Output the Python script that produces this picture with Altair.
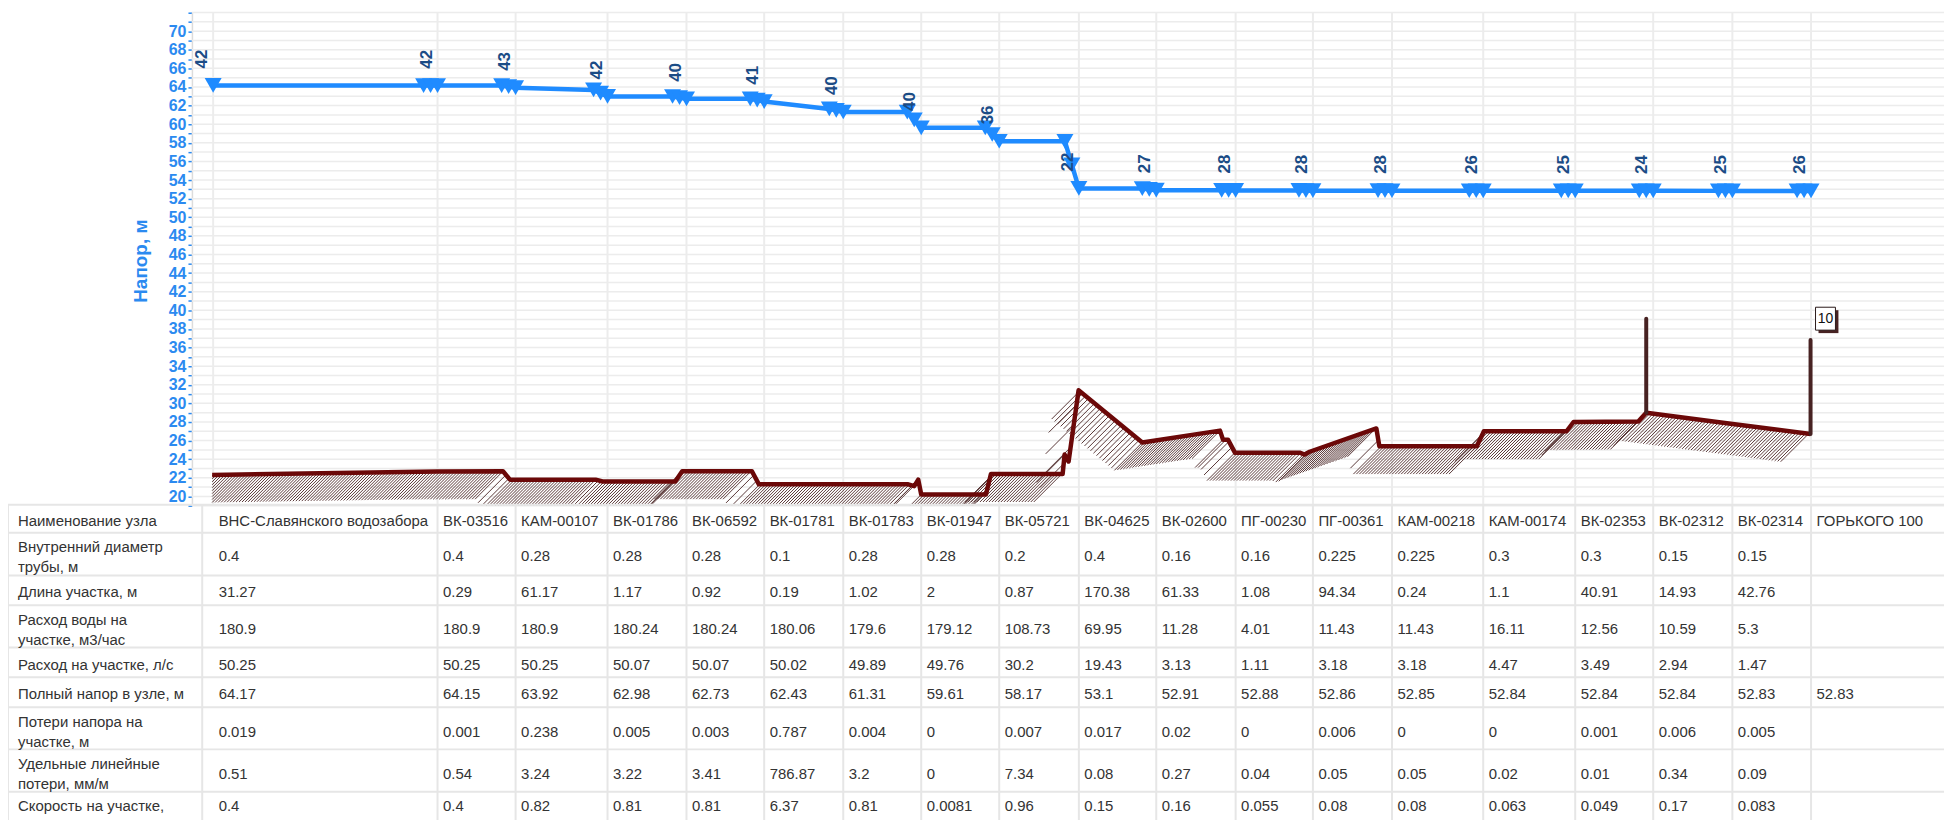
import altair as alt
import numpy as np
import pandas as pd

# ---------------- data ----------------
node_names = ["ВНС-Славянского водозабора", "ВК-03516", "КАМ-00107", "ВК-01786", "ВК-06592",
              "ВК-01781", "ВК-01783", "ВК-01947", "ВК-05721", "ВК-04625", "ВК-02600",
              "ПГ-00230", "ПГ-00361", "КАМ-00218", "КАМ-00174", "ВК-02353", "ВК-02312",
              "ВК-02314", "ГОРЬКОГО 100"]
free_head = [42, 42, 43, 42, 40, 41, 40, 40, 36, 22, 27, 28, 28, 28, 26, 25, 24, 25, 26]
diameter = [0.4, 0.4, 0.28, 0.28, 0.28, 0.1, 0.28, 0.28, 0.2, 0.4, 0.16, 0.16, 0.225, 0.225, 0.3, 0.3, 0.15, 0.15, None]
length = [31.27, 0.29, 61.17, 1.17, 0.92, 0.19, 1.02, 2, 0.87, 170.38, 61.33, 1.08, 94.34, 0.24, 1.1, 40.91, 14.93, 42.76, None]
flow_m3h = [180.9, 180.9, 180.9, 180.24, 180.24, 180.06, 179.6, 179.12, 108.73, 69.95, 11.28, 4.01, 11.43, 11.43, 16.11, 12.56, 10.59, 5.3, None]
flow_ls = [50.25, 50.25, 50.25, 50.07, 50.07, 50.02, 49.89, 49.76, 30.2, 19.43, 3.13, 1.11, 3.18, 3.18, 4.47, 3.49, 2.94, 1.47, None]
head = [64.17, 64.15, 63.92, 62.98, 62.73, 62.43, 61.31, 59.61, 58.17, 53.1, 52.91, 52.88, 52.86, 52.85, 52.84, 52.84, 52.84, 52.83, 52.83]
head_loss = [0.019, 0.001, 0.238, 0.005, 0.003, 0.787, 0.004, 0, 0.007, 0.017, 0.02, 0, 0.006, 0, 0, 0.001, 0.006, 0.005, None]
spec_loss = [0.51, 0.54, 3.24, 3.22, 3.41, 786.87, 3.2, 0, 7.34, 0.08, 0.27, 0.04, 0.05, 0.05, 0.02, 0.01, 0.34, 0.09, None]
velocity = [0.4, 0.4, 0.82, 0.81, 0.81, 6.37, 0.81, 0.0081, 0.96, 0.15, 0.16, 0.055, 0.08, 0.08, 0.063, 0.049, 0.17, 0.083, None]

# ground profile (position along the profile, elevation in m)
ground_pos = [213, 439, 505, 512, 598, 605, 678, 685, 755, 762, 912, 918, 922, 925, 990, 995,
              1067, 1069, 1073, 1083, 1147, 1225, 1228, 1233, 1240, 1305, 1310, 1315, 1382, 1385,
              1483, 1490, 1573, 1580, 1645, 1653, 1732, 1818]
ground_elev = [22.3, 22.68, 22.7, 21.8, 21.8, 21.6, 21.6, 22.7, 22.7, 21.3, 21.3, 21.1, 21.8, 20.2, 20.2, 22.4,
               22.4, 24.5, 23.75, 31.4, 25.8, 27.07, 26.1, 26.1, 24.7, 24.7, 24.5, 24.8, 27.3, 25.4,
               25.4, 27.0, 27.0, 28.0, 28.05, 29.0, 27.9, 26.7]

# building spikes
spike_pos = [1653, 1818]
spike_base = [29.0, 26.7]
spike_top = [39.1, 36.8]
spike_label = ["", "10"]

row_labels = [["Наименование узла"], ["Внутренний диаметр", "трубы, м"], ["Длина участка, м"],
              ["Расход воды на", "участке, м3/час"], ["Расход на участке, л/с"],
              ["Полный напор в узле, м"], ["Потери напора на", "участке, м"],
              ["Удельные линейные", "потери, мм/м"], ["Скорость на участке,"]]
row_values = [node_names, diameter, length, flow_m3h, flow_ls, head, head_loss, spec_loss, velocity]

# ---------------- layout (page pixels) ----------------
M = 8
W, H = 1944, 840
node_x = [214, 439.3, 517.7, 610, 689.3, 767.3, 846.7, 925, 1003.3, 1083.3, 1161, 1240.7,
          1318.3, 1397.7, 1489.3, 1581.7, 1660, 1739.5, 1818.5]
label_col_right = 203
row_lines = [505, 533.3, 576, 606, 648.3, 678.3, 708.3, 750.7, 793.3, 838]
row_value_y = [521, 557, 593, 630, 666, 695, 733, 775, 808]
row_label_top = [521, 548, 593, 620.5, 666, 695, 723, 765, 808]
Y20, PXM = 496.7, 9.344
DROP = 14

BLUE = "#1f8bff"
AXBLUE = "#2b8af0"
LBLUE = "#1b4c86"
BROWN = "#6b0808"
SPIKE = "#472222"
HATCH = "#5a3838"
GRID = "#ececec"
TGRID = "#e6e6e6"
FONT = "Liberation Sans"

xs = alt.Scale(domain=[M, M + W], range=[0, W], nice=False, zero=False)
ys = alt.Scale(domain=[19, 72], range=[Y20 + PXM - M, Y20 - 52 * PXM - M],
               nice=False, zero=False, clamp=True)
yp = alt.Scale(domain=[M, M + H], range=[0, H], nice=False, zero=False)

yaxis = alt.Axis(values=list(range(19, 73)),
                 labelExpr="(datum.value % 2 == 0 && datum.value >= 20 && datum.value <= 70) ? datum.value : ''",
                 offset=-(192.7 - M), tickSize=4, tickColor=AXBLUE, tickWidth=1.5,
                 domainColor="#dcdcdc", domainWidth=1.5, labelColor=AXBLUE, labelFontSize=16,
                 labelFontWeight="bold", labelFont="Liberation Sans Narrow, Liberation Sans",
                 labelPadding=2, labelOverlap=False, labelFlush=False, grid=False,
                 title="Напор, м", titleColor=AXBLUE, titleFontSize=19, titleFontWeight="bold",
                 titleFont=FONT, titleX=-52, titleY=252, titleAngle=270, titleAlign="center",
                 titleBaseline="middle")

X = lambda f: alt.X(f, scale=xs, axis=None)
Y = lambda f: alt.Y(f, scale=ys, axis=yaxis, title="Напор, м")

# ---------------- derived frames ----------------
line_rows = [{"x": node_x[0], "y": head[0], "o": 0}]
mark_rows = [{"x": node_x[0], "y": head[0]}]
for i in range(1, len(node_x)):
    prev_end = head[i - 1] - head_loss[i - 1]
    line_rows.append({"x": node_x[i] - DROP, "y": prev_end, "o": len(line_rows)})
    line_rows.append({"x": node_x[i], "y": head[i], "o": len(line_rows)})
    mark_rows += [{"x": node_x[i] - DROP, "y": prev_end},
                  {"x": node_x[i] - DROP / 2, "y": (prev_end + head[i]) / 2},
                  {"x": node_x[i], "y": head[i]}]
df_line = pd.DataFrame(line_rows)
df_marks = pd.DataFrame(mark_rows)
df_lab = pd.DataFrame({"x": node_x, "y": head, "t": [str(v) for v in free_head]})
df_ground = pd.DataFrame({"x": ground_pos, "g": ground_elev, "o": range(len(ground_pos))})
df_spike = pd.DataFrame({"x": spike_pos, "b": spike_base, "t": spike_top, "lab": spike_label})
df_box = df_spike[df_spike["lab"] != ""]
df_hgrid = pd.DataFrame({"y": list(range(19, 73))})
df_vgrid = pd.DataFrame({"x": node_x})

# hatch under the ground line: 45-degree strokes, 3 m deep, clipped at the plot bottom
hatch_rows = []
BAND_PX = 3 * PXM
for hx in np.arange(ground_pos[0] + 1, ground_pos[-1], 3.0):
    g = float(np.interp(hx, ground_pos, ground_elev))
    L = min(BAND_PX, (g - 19.05) * PXM, hx - ground_pos[0])
    if L <= 0:
        continue
    hatch_rows.append({"x": hx, "y": g, "x2": hx - L, "y2": g - L / PXM})
df_hatch = pd.DataFrame(hatch_rows)

hgrid = alt.Chart(df_hgrid).mark_rule(color=GRID, strokeWidth=1.5).encode(
    y=Y("y:Q"), x=alt.value(192.7 - M), x2=alt.value(W))
vgrid = alt.Chart(df_vgrid).mark_rule(color=GRID, strokeWidth=2).encode(
    x=X("x:Q"), y=alt.value(Y20 - 52 * PXM - M), y2=alt.value(Y20 + PXM - M))
hatch = alt.Chart(df_hatch).mark_rule(color=HATCH, strokeWidth=1.0).encode(
    x=X("x:Q"), x2="x2:Q", y=Y("y:Q"), y2="y2:Q")
ground = alt.Chart(df_ground).mark_line(color=BROWN, strokeWidth=4.5, strokeJoin="round").encode(
    x=X("x:Q"), y=Y("g:Q"), order="o:Q")
spikes = alt.Chart(df_spike).mark_rule(color=SPIKE, strokeWidth=4, strokeCap="round").encode(
    x=X("x:Q"), y=Y("b:Q"), y2="t:Q")
bline = alt.Chart(df_line).mark_line(color=BLUE, strokeWidth=4.5, strokeJoin="round").encode(
    x=X("x:Q"), y=Y("y:Q"), order="o:Q")
markers = alt.Chart(df_marks).mark_point(shape="triangle-down", filled=True, size=290,
                                         color=BLUE, opacity=1).encode(x=X("x:Q"), y=Y("y:Q"))
labels = alt.Chart(df_lab).mark_text(angle=270, align="left", baseline="middle", dx=17, dy=-11,
                                     fontSize=17, fontWeight="bold", font=FONT, color=LBLUE).encode(
    x=X("x:Q"), y=Y("y:Q"), text="t:N")
box_shadow = alt.Chart(df_box).mark_point(
    shape="M0.8,-3.0L2.8,-3.0L2.8,-0.7L0.8,-0.7Z", size=400, filled=True, color=SPIKE,
    opacity=1).encode(x=X("x:Q"), y=Y("t:Q"))
box = alt.Chart(df_box).mark_point(
    shape="M0.5,-3.3L2.5,-3.3L2.5,-1.0L0.5,-1.0Z", size=400, filled=True, fill="white",
    stroke="#2a1a1a", strokeWidth=1, opacity=1).encode(x=X("x:Q"), y=Y("t:Q"))
box_text = alt.Chart(df_box).mark_text(align="center", baseline="middle", dx=15, dy=-21.5,
                                       fontSize=14, font=FONT, color="#111").encode(
    x=X("x:Q"), y=Y("t:Q"), text="lab:N")

plot = alt.layer(hgrid, vgrid, hatch, ground, spikes, bline, markers, labels,
                 box_shadow, box, box_text)

# ---------------- table ----------------
trows = []
for r_i, vals in enumerate(row_values):
    for k, ln in enumerate(row_labels[r_i]):
        trows.append({"x": 18, "y": row_label_top[r_i] + k * 20, "t": ln})
    for i, v in enumerate(vals):
        if v is None:
            continue
        trows.append({"x": node_x[i] + 5.5, "y": row_value_y[r_i], "t": str(v)})
df_text = pd.DataFrame(trows)
df_hl = pd.DataFrame({"y": row_lines})
df_vl = pd.DataFrame({"x": [M, label_col_right] + node_x[1:]})

YP = lambda f: alt.Y(f, scale=yp, axis=None)
t_hl = alt.Chart(df_hl).mark_rule(color=TGRID, strokeWidth=2).encode(
    y=YP("y:Q"), x=alt.value(0), x2=alt.value(W))
t_vl = alt.Chart(df_vl).mark_rule(color=TGRID, strokeWidth=2).encode(
    x=X("x:Q"), y=alt.value(row_lines[0] - M), y2=alt.value(H))
t_text = alt.Chart(df_text).mark_text(align="left", baseline="middle", fontSize=15, font=FONT,
                                      color="#333333").encode(
    x=X("x:Q"), y=YP("y:Q"), text="t:N")
table = alt.layer(t_hl, t_vl, t_text)

chart = alt.layer(plot, table).resolve_scale(y="independent").properties(
    width=W, height=H, autosize=alt.AutoSizeParams(type="none"), padding=0,
    background="white").configure_view(stroke=None)

chart.save("out.html", embed_options={"renderer": "svg", "actions": False})
